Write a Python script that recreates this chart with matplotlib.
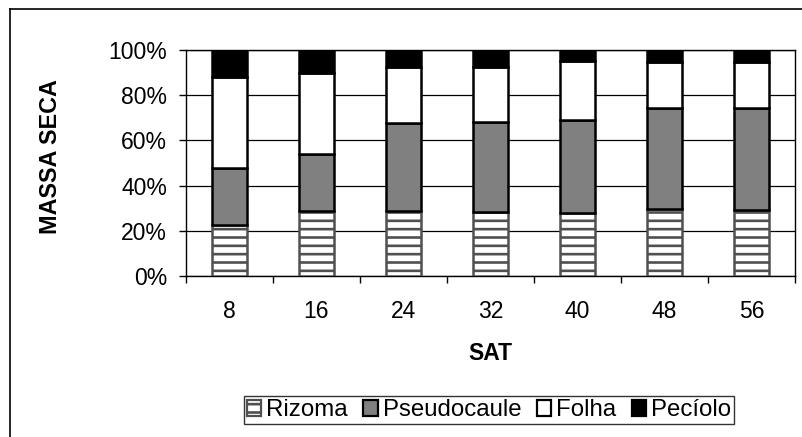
import matplotlib
matplotlib.use("Agg")
import matplotlib.pyplot as plt
from matplotlib.patches import Patch
from matplotlib.lines import Line2D
import numpy as np

plt.rcParams['font.family'] = ['Liberation Sans', 'DejaVu Sans']
plt.rcParams['hatch.linewidth'] = 1.9
plt.rcParams['hatch.color'] = '#262626'

# Days after transplanting and dry-mass share (%) of each plant part
sat = ['8', '16', '24', '32', '40', '48', '56']
rizoma = [22.6, 28.9, 28.8, 28.5, 27.7, 29.5, 29.2]
pseudocaule = [25.0, 24.9, 38.8, 39.5, 41.3, 44.7, 45.0]
folha = [40.6, 35.9, 24.7, 24.3, 26.3, 20.6, 20.5]
peciolo = [11.8, 10.3, 7.7, 7.7, 4.7, 5.2, 5.3]
y_ticks = [0, 20, 40, 60, 80, 100]

W, H = 802, 437
fig = plt.figure(figsize=(W / 100, H / 100), dpi=100)
ax = fig.add_axes([185.7 / W, 1 - 276 / H, (795 - 185.7) / W, (276 - 50) / H])

x = np.arange(len(sat))
bw = 0.4
bottom = np.zeros(len(sat))
series = [
    (rizoma, dict(facecolor='white', edgecolor='#505050', hatch='--', linewidth=1.8)),
    (pseudocaule, dict(facecolor='#808080', edgecolor='black', linewidth=1.8)),
    (folha, dict(facecolor='white', edgecolor='black', linewidth=1.8)),
    (peciolo, dict(facecolor='black', edgecolor='black', linewidth=1.8)),
]
for vals, style in series:
    ax.bar(x, vals, bw, bottom=bottom, zorder=3, **style)
    bottom = bottom + np.array(vals)

ax.set_xlim(-0.5, len(sat) - 0.5)
ax.set_ylim(0, 100)
ax.set_yticks(y_ticks)
ax.set_yticklabels([f'{v}%' for v in y_ticks])
ax.yaxis.grid(True, color='black', linewidth=0.9, zorder=0)
ax.set_axisbelow(True)

ax.set_xticks(x)
ax.set_xticklabels(sat)
ax.set_xticks(np.arange(len(sat) + 1) - 0.5, minor=True)
ax.tick_params(axis='x', which='major', length=0, pad=17, labelsize=16.5)
ax.tick_params(axis='x', which='minor', length=5, width=1, direction='out')
ax.tick_params(axis='y', length=5, width=1, direction='out', pad=8.5, labelsize=16.5)

for s in ax.spines.values():
    s.set_linewidth(1.0)
    s.set_color('black')

ax.set_xlabel('SAT', fontsize=16.5, fontweight='bold', labelpad=14)
fig.text(51 / W, 1 - 157 / H, 'MASSA SECA', rotation=90, fontsize=16.8,
         fontweight='bold', ha='center', va='center')

handles = [
    Patch(facecolor='white', edgecolor='#505050', hatch='--', linewidth=1.6, label='Rizoma'),
    Patch(facecolor='#808080', edgecolor='black', linewidth=1.6, label='Pseudocaule'),
    Patch(facecolor='white', edgecolor='black', linewidth=1.6, label='Folha'),
    Patch(facecolor='black', edgecolor='black', linewidth=1.6, label='Pecíolo'),
]
leg = fig.legend(handles=handles, loc='center', ncol=4,
                 bbox_to_anchor=(489 / W, 1 - 410 / H), fontsize=17.3,
                 frameon=True, fancybox=False, shadow=False,
                 handlelength=0.6, handleheight=0.65, handletextpad=0.2,
                 columnspacing=0.65, borderpad=0.12, borderaxespad=0)
leg.get_frame().set_edgecolor('black')
leg.get_frame().set_linewidth(1.0)

# Outer chart-area frame (left and top edges)
fig.add_artist(Line2D([10 / W, 10 / W], [0, 1 - 8.5 / H], color='black', linewidth=1.2))
fig.add_artist(Line2D([10 / W, 1], [1 - 8.5 / H, 1 - 8.5 / H], color='black', linewidth=1.2))

fig.savefig('out.png', dpi=100)
